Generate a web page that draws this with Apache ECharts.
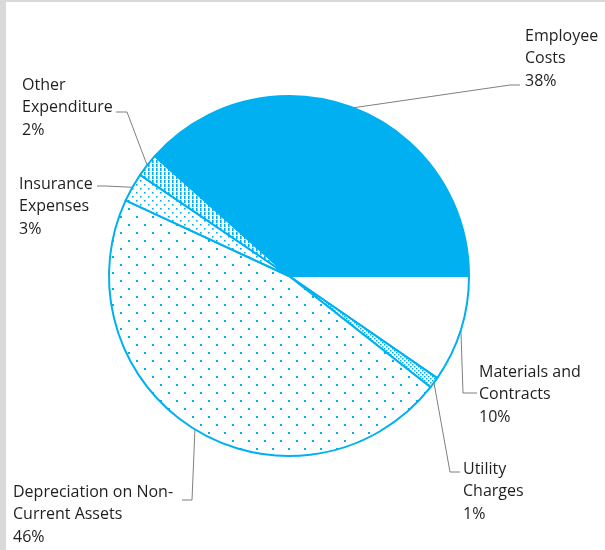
<!DOCTYPE html>
<html>
<head>
<meta charset="utf-8">
<script src="https://cdn.jsdelivr.net/npm/echarts@6/dist/echarts.min.js"></script>
<style>
  html, body { margin: 0; padding: 0; background: #ffffff; }
  #chart { position: absolute; left: 0; top: 0; width: 605px; height: 550px; }
  .frame-left { position: absolute; left: 0; top: 0; width: 6px; height: 550px; background: #d9d9d9; }
  .frame-top { position: absolute; left: 0; top: 0; width: 605px; height: 2px; background: #d9d9d9; }
</style>
</head>
<body>
<div id="chart"></div>
<div class="frame-left"></div>
<div class="frame-top"></div>
<script>
// Expenditure categories, clockwise from 3 o'clock
const categories = [
  'Materials and\nContracts',
  'Utility\nCharges',
  'Depreciation on Non-\nCurrent Assets',
  'Insurance\nExpenses',
  'Other\nExpenditure',
  'Employee\nCosts'
];
// Share of total expenditure (%)
const shares = [9.6, 1.0, 46.3, 2.6, 2.1, 38.4];

// Label block placement (top-left) and leader-line end segments
const labelBoxes = [
  { x: 479, y: 361, bend: [463, 393], end: [477, 393] },
  { x: 463, y: 458, bend: [450, 472], end: [460, 472] },
  { x: 13,  y: 481, bend: [192, 500], end: [182, 500] },
  { x: 19,  y: 173, bend: [106, 186], end: [97, 186] },
  { x: 22,  y: 74,  bend: [127, 112], end: [116, 112] },
  { x: 525, y: 25,  bend: [510, 85],  end: [520, 85] }
];

const BLUE = '#00B0F0';

function makePattern(w, h, draw) {
  const c = document.createElement('canvas');
  c.width = w; c.height = h;
  const ctx = c.getContext('2d');
  ctx.fillStyle = '#ffffff';
  ctx.fillRect(0, 0, w, h);
  ctx.fillStyle = BLUE;
  draw(ctx);
  return { image: c, repeat: 'repeat' };
}

const sparseDots = makePattern(16, 16, ctx => {
  ctx.fillRect(0, 0, 2, 2);
  ctx.fillRect(8, 8, 2, 2);
});
const denseDots = makePattern(8, 8, ctx => {
  ctx.fillRect(0, 0, 1.6, 1.6);
  ctx.fillRect(4, 4, 1.6, 1.6);
});
const fineDots = makePattern(4, 4, ctx => {
  ctx.fillRect(0, 0, 1.5, 1.5);
  ctx.fillRect(2, 2, 1.5, 1.5);
});
const dashes = makePattern(4, 4, ctx => {
  ctx.fillRect(0, 0, 1.6, 3);
});

const fills = ['#ffffff', fineDots, sparseDots, denseDots, dashes, BLUE];

const chart = echarts.init(document.getElementById('chart'), null, { renderer: 'canvas' });

chart.setOption({
  animation: false,
  series: [{
    type: 'pie',
    center: [289, 276],
    radius: 180,
    startAngle: 0,
    clockwise: true,
    avoidLabelOverlap: false,
    silent: true,
    data: categories.map((name, i) => ({
      name: name,
      value: shares[i],
      itemStyle: { color: fills[i] }
    })),
    itemStyle: { borderColor: BLUE, borderWidth: 2 },
    label: {
      show: true,
      position: 'outside',
      fontFamily: 'Open Sans',
      fontSize: 16,
      lineHeight: 22.5,
      color: '#1f1f1f',
      align: 'left',
      formatter: p => p.name + '\n' + Math.round(p.percent) + '%'
    },
    labelLine: {
      show: true,
      length: 10,
      length2: 10,
      lineStyle: { color: '#7f7f7f', width: 1 }
    },
    labelLayout: function (params) {
      const box = labelBoxes[params.dataIndex];
      const anchor = params.labelLinePoints ? params.labelLinePoints[0] : box.bend;
      return {
        x: box.x,
        y: box.y,
        align: 'left',
        verticalAlign: 'top',
        labelLinePoints: [anchor, box.bend, box.end]
      };
    },
    emphasis: { disabled: true }
  }]
});
</script>
</body>
</html>
